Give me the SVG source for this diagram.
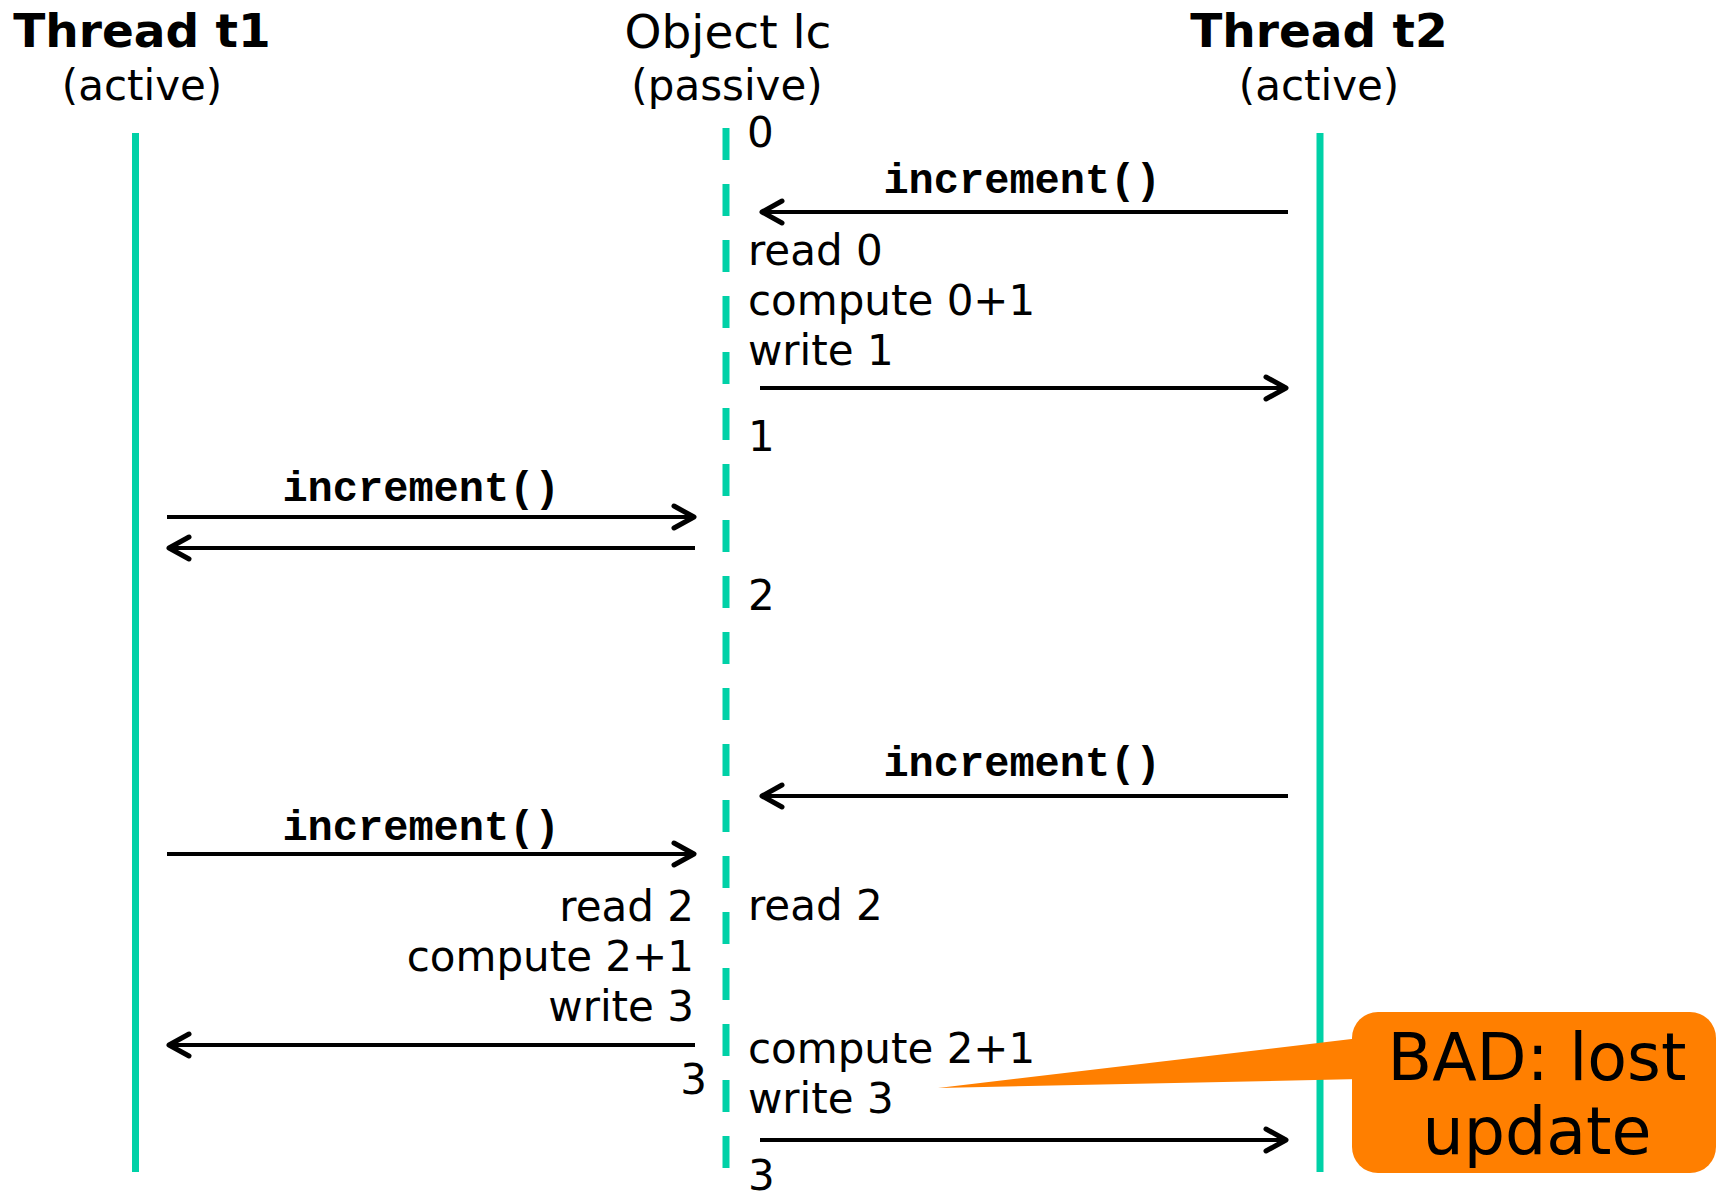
<svg xmlns="http://www.w3.org/2000/svg" width="1717" height="1202" viewBox="0 0 1717 1202">
<style>
.hdr{font-family:"DejaVu Sans","Verdana",sans-serif;font-size:47px;fill:#000;text-anchor:middle}
.sub{font-family:"DejaVu Sans","Verdana",sans-serif;font-size:42px;fill:#000;text-anchor:middle}
.t{font-family:"DejaVu Sans","Verdana",sans-serif;font-size:42px;fill:#000}
.r{text-anchor:end}
.m{font-family:"Courier New","Liberation Mono",monospace;font-size:42px;font-weight:bold;fill:#000}
.life{stroke:#00D1A7;stroke-width:7;fill:none}
.msg{stroke:#000;stroke-width:4;fill:none;marker-end:url(#arr)}
.big{font-family:"DejaVu Sans","Verdana",sans-serif;font-size:65px;fill:#000;text-anchor:middle}
</style>
<defs>
<marker id="arr" markerUnits="userSpaceOnUse" markerWidth="40" markerHeight="40" viewBox="-30 -20 40 40" refX="0" refY="0" orient="auto" overflow="visible">
<path d="M-20,-11 L0,0 L-20,11" fill="none" stroke="#000" stroke-width="5" stroke-linecap="round" stroke-linejoin="round"/>
</marker>
</defs>
<rect width="1717" height="1202" fill="#fff"/>
<g id="t1">
<text class="hdr" x="142" y="47" font-weight="bold">Thread t1</text>
<text class="sub" x="142" y="100">(active)</text>
<line class="life" x1="135.5" y1="133" x2="135.5" y2="1172"/>
</g>
<g id="lc">
<text class="hdr" x="728" y="48">Object lc</text>
<text class="sub" x="727" y="100">(passive)</text>
<line class="life" x1="726" y1="128" x2="726" y2="1168" stroke-dasharray="32 24"/>
</g>
<g id="t2">
<text class="hdr" x="1319" y="47" font-weight="bold">Thread t2</text>
<text class="sub" x="1319" y="100">(active)</text>
<line class="life" x1="1320" y1="133" x2="1320" y2="1172"/>
</g>
<g id="connectors">
<line class="msg" x1="1288" y1="212" x2="762" y2="212"/>
<line class="msg" x1="760" y1="388" x2="1286" y2="388"/>
<line class="msg" x1="167" y1="517" x2="694" y2="517"/>
<line class="msg" x1="695" y1="548" x2="169" y2="548"/>
<line class="msg" x1="1288" y1="796" x2="762" y2="796"/>
<line class="msg" x1="167" y1="854" x2="694" y2="854"/>
<line class="msg" x1="695" y1="1045" x2="169" y2="1045"/>
<line class="msg" x1="760" y1="1140" x2="1286" y2="1140"/>
</g>
<g id="labels">
<text class="m" x="1022" y="193" text-anchor="middle">increment()</text>
<text class="m" x="421" y="501" text-anchor="middle">increment()</text>
<text class="m" x="1022" y="776" text-anchor="middle">increment()</text>
<text class="m" x="421" y="840" text-anchor="middle">increment()</text>
<text class="t" x="747" y="147">0</text>
<text class="t" x="748" y="265">read 0</text>
<text class="t" x="748" y="315">compute 0+1</text>
<text class="t" x="748" y="365">write 1</text>
<text class="t" x="748" y="451">1</text>
<text class="t" x="748" y="610">2</text>
<text class="t r" x="694" y="921">read 2</text>
<text class="t r" x="694" y="971">compute 2+1</text>
<text class="t r" x="694" y="1021">write 3</text>
<text class="t r" x="707" y="1094">3</text>
<text class="t" x="748" y="920">read 2</text>
<text class="t" x="748" y="1063">compute 2+1</text>
<text class="t" x="748" y="1113">write 3</text>
<text class="t" x="748" y="1190">3</text>
</g>
<g id="callout">
<path d="M938,1088 L1360,1038 L1360,1079 Z" fill="#FF7F00"/>
<rect x="1352" y="1012" width="364" height="161" rx="26" ry="26" fill="#FF7F00"/>
<text class="big" x="1537" y="1080">BAD: lost</text>
<text class="big" x="1537" y="1154">update</text>
</g>
</svg>
